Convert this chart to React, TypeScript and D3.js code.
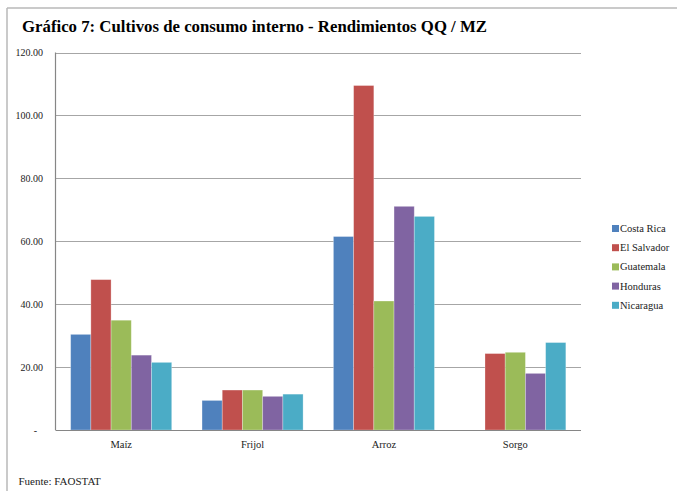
import React from "react";
import * as d3 from "d3";

const categories = ["Maíz", "Frijol", "Arroz", "Sorgo"];
const seriesNames = ["Costa Rica", "El Salvador", "Guatemala", "Honduras", "Nicaragua"];
const costaRica = [30.4, 9.4, 61.5, 0];
const elSalvador = [47.8, 12.7, 109.5, 24.3];
const guatemala = [34.9, 12.7, 41.0, 24.7];
const honduras = [23.8, 10.7, 71.1, 18.0];
const nicaragua = [21.5, 11.4, 67.9, 27.8];
const yTicks = [0, 20, 40, 60, 80, 100, 120];
const colors = ["#4F81BD", "#C0504D", "#9BBB59", "#8064A2", "#4BACC6"];

const seriesValues = [costaRica, elSalvador, guatemala, honduras, nicaragua];

export default function App() {
  const W = 677, H = 491;
  const left = 55.5, right = 581, top = 52.5, bottom = 430;
  const font = "Liberation Serif, DejaVu Serif, serif";

  const x = d3.scaleBand<string>().domain(categories).range([left, right]).padding(0);
  const bw = x.bandwidth();
  const gap = (bw * 1.5) / 6.5;
  const xs = d3.scaleBand<string>().domain(seriesNames).range([gap / 2, bw - gap / 2]).padding(0);
  const y = d3.scaleLinear().domain([0, 120]).range([bottom, top]);

  return (
    <svg width={W} height={H} style={{ position: "absolute", left: 0, top: 0, fontFamily: font }}>
      <rect x={0} y={0} width={W} height={H} fill="#fff" />
      <line x1={7} y1={8} x2={W} y2={8} stroke="#b8b8b8" strokeWidth={1.5} />
      <line x1={7} y1={8} x2={7} y2={H} stroke="#b8b8b8" strokeWidth={1.5} />
      <text x={22} y={32} fontSize={16.5} fontWeight="bold" fill="#000" textLength={465} lengthAdjust="spacingAndGlyphs">
        Gráfico 7: Cultivos de consumo interno - Rendimientos QQ / MZ
      </text>
      {yTicks.map((t) => (
        <g key={t}>
          {t > 0 && (
            <line x1={left} x2={right} y1={Math.round(y(t)) + 0.5} y2={Math.round(y(t)) + 0.5} stroke="#a6a6a6" strokeWidth={1} />
          )}
          <text x={t === 0 ? 37 : 43} y={y(t) + 3.5} fontSize={10} textAnchor="end" fill="#222">
            {t === 0 ? "-" : d3.format(".2f")(t)}
          </text>
        </g>
      ))}
      {categories.map((c, ci) => (
        <g key={c}>
          {seriesNames.map((s, si) => {
            const v = seriesValues[si][ci];
            if (!v) return null;
            return (
              <rect
                key={s}
                x={(x(c) as number) + (xs(s) as number)}
                y={y(v)}
                width={xs.bandwidth()}
                height={bottom - y(v)}
                fill={colors[si]}
                stroke="rgba(255,255,255,0.35)"
                strokeWidth={0.8}
              />
            );
          })}
          <text x={(x(c) as number) + bw / 2} y={448} fontSize={10.5} textAnchor="middle" fill="#222">
            {c}
          </text>
        </g>
      ))}
      <line x1={left} x2={left} y1={top} y2={bottom} stroke="#868686" strokeWidth={1.2} />
      <line x1={left} x2={right} y1={bottom + 0.5} y2={bottom + 0.5} stroke="#868686" strokeWidth={1.2} />
      {seriesNames.map((s, si) => (
        <g key={s} transform={`translate(612, ${228.5 + si * 19.2})`}>
          <rect x={0} y={-3.5} width={7} height={7} fill={colors[si]} />
          <text x={8} y={3.5} fontSize={10.5} fill="#222">{s}</text>
        </g>
      ))}
      <text x={18.5} y={485} fontSize={11} fill="#222">Fuente: FAOSTAT</text>
    </svg>
  );
}
